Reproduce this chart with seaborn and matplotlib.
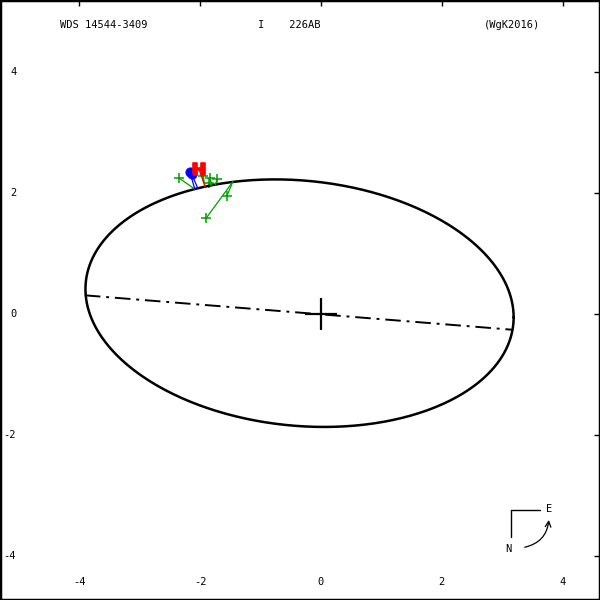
import numpy as np
import pandas as pd
import matplotlib
matplotlib.use("Agg")
import matplotlib.pyplot as plt
import seaborn as sb

# apparent orbit: centre, half-widths and tilt term
orbit_cx, orbit_cy = -0.355, 0.18
orbit_a = 3.545      # half-width in x
orbit_tilt = -0.234  # y offset at the x extremes
orbit_b = 2.036

# line of nodes
node_x = [-3.91, 3.17]
node_y = [0.31, -0.26]

# micrometer measures (green +) and where they fall on the orbit
micro_x = [-2.35, -1.95, -1.84, -1.72, -1.85, -1.56, -1.90]
micro_y = [2.25, 2.28, 2.25, 2.24, 2.17, 1.95, 1.59]
micro_ox = [-2.09, -1.92, -1.80, -1.75, -1.82, -1.46, -1.46]
micro_oy = [2.07, 2.11, 2.13, 2.14, 2.13, 2.19, 2.19]

# interferometric measures (blue)
speck_x = [-2.17, -2.14]
speck_y = [2.35, 2.32]
speck_ox = [-2.09, -2.04]
speck_oy = [2.07, 2.08]

# Hipparcos (red H)
hip_x = [-2.02]
hip_y = [2.40]
hip_ox = [-1.92]
hip_oy = [2.11]

ticks = [-4, -2, 0, 2, 4]

sb.set_style("white")
plt.rcParams["font.family"] = ["DejaVu Sans Mono"]
plt.rcParams["text.color"] = "black"

fig = plt.figure(figsize=(6, 6), dpi=100)
ax = fig.add_axes([0, 0, 1, 1])

t = np.linspace(0, 2 * np.pi, 400)
orbit = pd.DataFrame({
    "x": orbit_cx + orbit_a * np.cos(t),
    "y": orbit_cy + orbit_tilt * np.cos(t) + orbit_b * np.sin(t),
})
sb.lineplot(data=orbit, x="x", y="y", sort=False, estimator=None, color="black", lw=1.8, ax=ax)
ax.plot(node_x, node_y, color="black", lw=1.4, dashes=[8, 3, 1.5, 3])

# residual lines
for xs, ys, oxs, oys, c in [(micro_x, micro_y, micro_ox, micro_oy, "#00a000"),
                            (speck_x, speck_y, speck_ox, speck_oy, "blue"),
                            (hip_x, hip_y, hip_ox, hip_oy, "red")]:
    for x, y, ox, oy in zip(xs, ys, oxs, oys):
        ax.plot([x, ox], [y, oy], color=c, lw=0.9)

sb.scatterplot(x=micro_x, y=micro_y, marker="+", s=45, color="#00a000", linewidth=1.1, ax=ax)
sb.scatterplot(x=speck_x, y=speck_y, marker="o", s=45, color="blue", edgecolor="blue", ax=ax)
sb.scatterplot(x=hip_x, y=hip_y, marker=r"$\mathbf{H}$", s=80, color="red", edgecolor="red",
               linewidth=1.2, ax=ax)

# primary
ax.plot([0], [0], marker="+", ms=23, mew=1.6, color="black")

ax.set_xlabel("")
ax.set_ylabel("")
ax.set_xlim(-5.315, 4.62)
ax.set_ylim(-4.735, 5.2)
ax.set_xticks(ticks)
ax.set_yticks(ticks)
ax.tick_params(direction="in", length=4, width=1, top=True, right=True,
               labelbottom=False, labelleft=False, color="black")
for s in ax.spines.values():
    s.set_color("black")
    s.set_linewidth(2.5)

for v in ticks:
    ax.text(v, 0.03, str(v), transform=ax.get_xaxis_transform(),
            ha="center", va="center", fontsize=7.5)
    ax.text(0.027, v, str(v), transform=ax.get_yaxis_transform(),
            ha="right", va="center", fontsize=7.5)

ax.text(0.1, 0.958, "WDS 14544-3409", transform=ax.transAxes, ha="left", va="center", fontsize=7.5)
ax.text(0.43, 0.958, "I    226AB", transform=ax.transAxes, ha="left", va="center", fontsize=7.5)
ax.text(0.9, 0.958, "(WgK2016)", transform=ax.transAxes, ha="right", va="center", fontsize=7.5)

# compass
ax.plot([0.852, 0.852], [0.105, 0.15], color="black", lw=1, transform=ax.transAxes)
ax.plot([0.852, 0.9], [0.15, 0.15], color="black", lw=1, transform=ax.transAxes)
ax.text(0.915, 0.152, "E", transform=ax.transAxes, ha="center", va="center", fontsize=7.5)
ax.text(0.847, 0.085, "N", transform=ax.transAxes, ha="center", va="center", fontsize=7.5)
ax.annotate("", xy=(0.915, 0.138), xytext=(0.87, 0.087), xycoords="axes fraction",
            arrowprops=dict(arrowstyle="->", lw=0.9, color="black",
                            connectionstyle="arc3,rad=0.4"))

fig.savefig("out.png", dpi=100)
